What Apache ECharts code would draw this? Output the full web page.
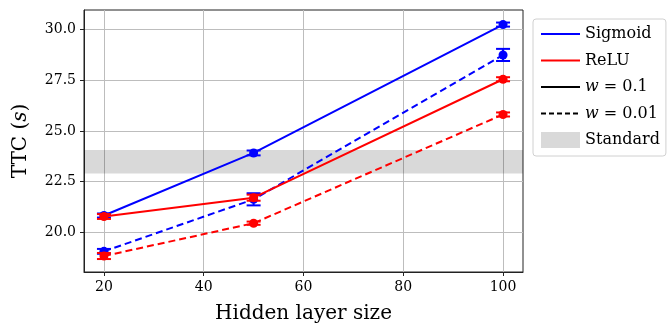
<!DOCTYPE html>
<html>
<head>
	<meta charset="utf-8">
	<title>TTC vs hidden layer size</title>
	<script type="text/javascript" src="https://cdn.jsdelivr.net/npm/echarts@6/dist/echarts.min.js"></script>
	<style>
		html, body { margin: 0; padding: 0; background: #fff; }
		#main { width: 672px; height: 327px; }
	</style>
</head>
<body>
	<div id="main"></div>
	<script type="text/javascript">
		// data
		var sizes = [20, 50, 100];
		var sigmoidW01 = [20.82, 23.91, 30.25];
		var sigmoidW01Err = [0.10, 0.12, 0.10];
		var sigmoidW001 = [19.05, 21.62, 28.75];
		var sigmoidW001Err = [0.12, 0.30, 0.30];
		var reluW01 = [20.77, 21.70, 27.55];
		var reluW01Err = [0.12, 0.15, 0.10];
		var reluW001 = [18.82, 20.44, 25.81];
		var reluW001Err = [0.15, 0.08, 0.10];
		var standardBand = [22.9, 24.05];
		var xTicks = [20, 40, 60, 80, 100];
		var yTicks = [20, 22.5, 25, 27.5, 30];

		var FONT = 'DejaVu Serif';
		var BLUE = '#0000ff', RED = '#ff0000', BAND = '#d9d9d9';

		var myChart = echarts.init(document.getElementById('main'));

		function pts(ys) {
			return sizes.map(function (x, i) { return [x, ys[i]]; });
		}
		function errPts(ys, es) {
			return sizes.map(function (x, i) { return [x, ys[i], es[i]]; });
		}

		// vertical error bar with caps
		function renderErr(params, api) {
			var x = api.value(0), y = api.value(1), e = api.value(2);
			var lo = api.coord([x, y - e]);
			var hi = api.coord([x, y + e]);
			var hw = 7;
			var st = { stroke: api.visual('color'), lineWidth: 2 };
			return {
				type: 'group',
				children: [
					{ type: 'line', shape: { x1: lo[0], y1: lo[1], x2: hi[0], y2: hi[1] }, style: st },
					{ type: 'line', shape: { x1: lo[0] - hw, y1: lo[1], x2: lo[0] + hw, y2: lo[1] }, style: st },
					{ type: 'line', shape: { x1: hi[0] - hw, y1: hi[1], x2: hi[0] + hw, y2: hi[1] }, style: st }
				]
			};
		}

		function curve(name, ys, es, color, dashed, z) {
			return [{
				name: name,
				type: 'line',
				data: pts(ys),
				z: z,
				symbol: 'circle',
				symbolSize: 9,
				itemStyle: { color: color },
				lineStyle: { color: color, width: 2, type: dashed ? [7, 4] : 'solid' },
				silent: true,
				animation: false
			}, {
				name: name + ' err',
				type: 'custom',
				data: errPts(ys, es),
				z: z,
				itemStyle: { color: color },
				renderItem: renderErr,
				silent: true,
				animation: false
			}];
		}

		// legend-only entries (no data), symbol made invisible so only the line shows
		function proxy(name, color, dashed) {
			return {
				name: name,
				type: 'line',
				data: [],
				symbol: 'circle',
				itemStyle: { color: 'rgba(0,0,0,0)' },
				lineStyle: { color: color, width: 2, type: dashed ? [5, 3] : 'solid' }
			};
		}

		var series = [];
		series = series.concat(curve('sig01', sigmoidW01, sigmoidW01Err, BLUE, false, 3));
		series = series.concat(curve('sig001', sigmoidW001, sigmoidW001Err, BLUE, true, 4));
		series = series.concat(curve('relu01', reluW01, reluW01Err, RED, false, 5));
		series = series.concat(curve('relu001', reluW001, reluW001Err, RED, true, 6));
		series.push(proxy('Sigmoid', BLUE, false));
		series.push(proxy('ReLU', RED, false));
		series.push(proxy('w = 0.1', '#000', false));
		series.push(proxy('w = 0.01', '#000', true));
		series.push({
			name: 'Standard',
			type: 'line',
			data: [],
			z: 0,
			symbol: 'none',
			itemStyle: { color: BAND },
			lineStyle: { width: 0 },
			markArea: {
				silent: true,
				// translucent so the grid lines still show through, as in the figure
				itemStyle: { color: 'rgba(0,0,0,0.15)' },
				data: [[{ yAxis: standardBand[0] }, { yAxis: standardBand[1] }]]
			}
		});

		var option = {
			animation: false,
			grid: {
				left: 84, right: 149, top: 10, bottom: 55,
				outerBoundsMode: 'none',
				show: true,
				borderColor: '#222',
				borderWidth: 1,
				backgroundColor: 'transparent'
			},
			legend: {
				left: 533,
				top: 19,
				orient: 'vertical',
				padding: [6, 6, 7, 7],
				itemWidth: 39,
				itemHeight: 16,
				itemGap: 8.5,
				itemTextGap: 16,
				borderColor: '#d0d0d0',
				borderWidth: 1,
				borderRadius: 3,
				data: [
					'Sigmoid', 'ReLU', 'w = 0.1', 'w = 0.01',
					{ name: 'Standard', icon: 'rect', itemStyle: { color: BAND } }
				],
				formatter: function (name) {
					if (name.charAt(0) === 'w') {
						return '{i|w}' + name.slice(1);
					}
					return name;
				},
				textStyle: {
					fontFamily: FONT,
					fontSize: 16,
					lineHeight: 18,
					color: '#000',
					rich: {
						i: { fontFamily: FONT, fontSize: 16, fontStyle: 'italic', color: '#000' }
					}
				}
			},
			xAxis: {
				type: 'value',
				min: 16,
				max: 104,
				name: 'Hidden layer size',
				nameLocation: 'middle',
				nameGap: 32,
				nameTextStyle: { fontFamily: FONT, fontSize: 20, color: '#000' },
				axisLine: { show: true, lineStyle: { color: '#222', width: 1 } },
				axisTick: { show: true, inside: false, length: 4, customValues: xTicks, lineStyle: { color: '#222' } },
				axisLabel: { customValues: xTicks, margin: 8, fontFamily: FONT, fontSize: 14, color: '#000' },
				splitLine: { show: true, lineStyle: { color: '#bdbdbd', width: 1 } }
			},
			yAxis: {
				type: 'value',
				min: 18.03,
				max: 30.97,
				name: '{n|TTC (}{i|s}{n|)}',
				nameLocation: 'middle',
				nameGap: 53,
				nameTextStyle: {
					fontFamily: FONT, fontSize: 20, color: '#000',
					rich: {
						n: { fontFamily: FONT, fontSize: 20, color: '#000' },
						i: { fontFamily: FONT, fontSize: 20, fontStyle: 'italic', color: '#000' }
					}
				},
				axisLine: { show: true, lineStyle: { color: '#222', width: 1 } },
				axisTick: { show: true, inside: false, length: 4, customValues: yTicks, lineStyle: { color: '#222' } },
				axisLabel: {
					customValues: yTicks,
					margin: 8,
					fontFamily: FONT, fontSize: 14, color: '#000',
					formatter: function (v) { return v.toFixed(1); }
				},
				splitLine: { show: true, lineStyle: { color: '#bdbdbd', width: 1 } }
			},
			series: series
		};

		myChart.setOption(option);
	</script>
</body>
</html>
